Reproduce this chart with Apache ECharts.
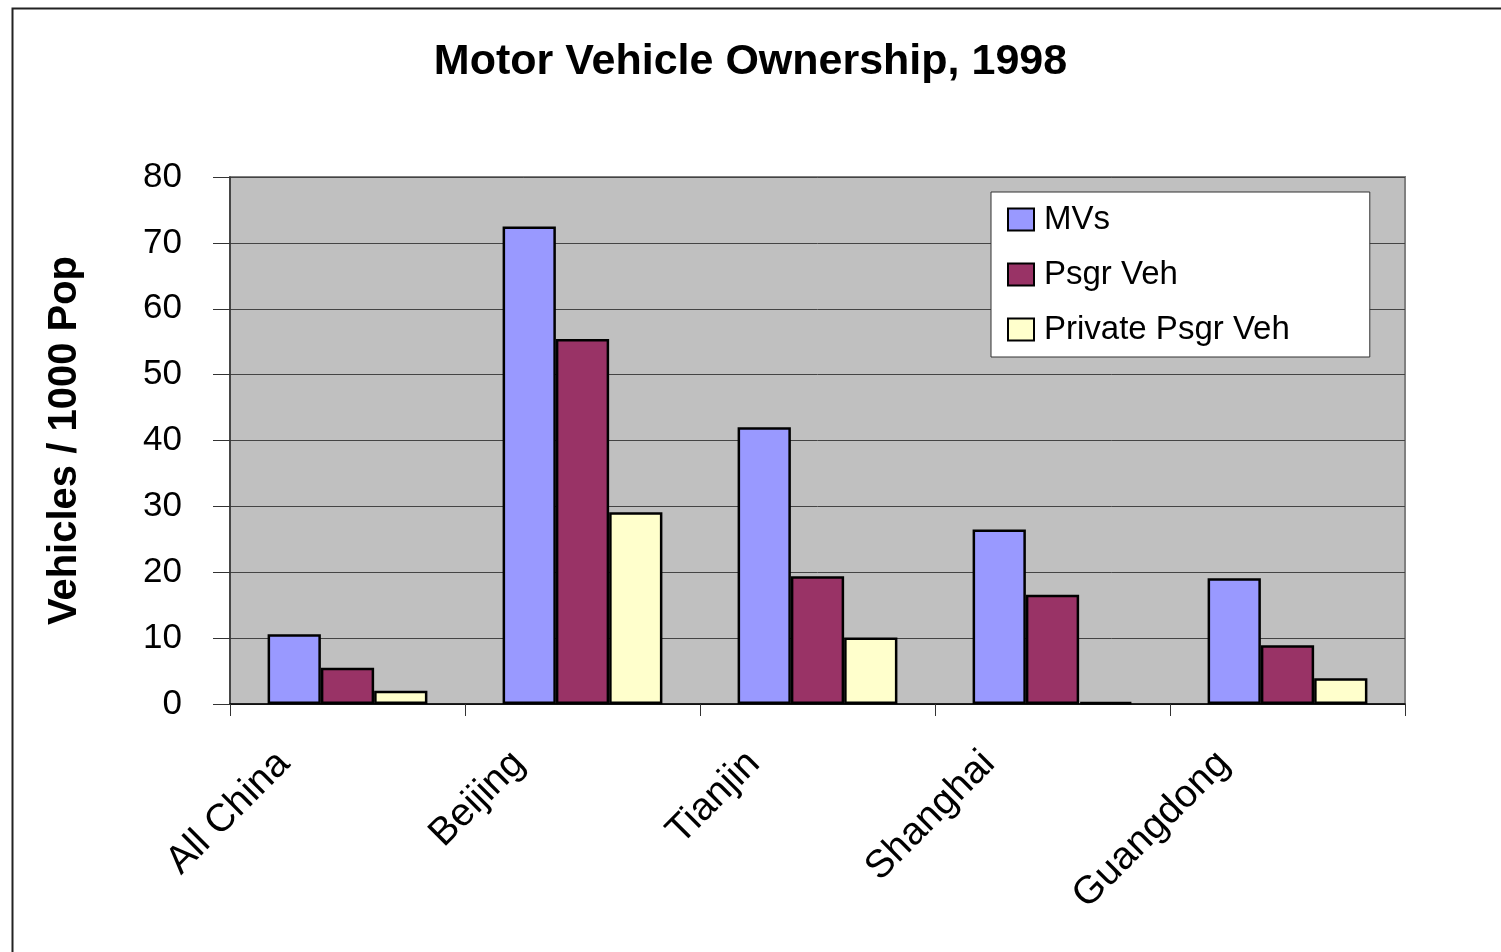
<!DOCTYPE html>
<html>
<head>
<meta charset="utf-8">
<script src="https://cdn.jsdelivr.net/npm/echarts@6/dist/echarts.min.js"></script>
<style>
html,body{margin:0;padding:0;background:#fff;}
#chart{width:1501px;height:952px;}
</style>
</head>
<body>
<div id="chart"></div>
<script>
const categories = ['All China', 'Beijing', 'Tianjin', 'Shanghai', 'Guangdong'];
const mvs = [10.6, 72.5, 42.0, 26.5, 19.1];
const psgrVeh = [5.5, 55.4, 19.4, 16.6, 8.9];
const privatePsgrVeh = [2.0, 29.1, 10.1, 0.3, 3.9];
const seriesNames = ['MVs', 'Psgr Veh', 'Private Psgr Veh'];
const yTicks = { min: 0, max: 80, interval: 10 };

const FONT = 'Liberation Sans, Arial, sans-serif';
const colors = ['#9999FF', '#993366', '#FFFFCC'];
const dataSets = [mvs, psgrVeh, privatePsgrVeh];

const chart = echarts.init(document.getElementById('chart'));
chart.setOption({
  animation: false,
  backgroundColor: '#ffffff',
  graphic: [{
    type: 'rect', left: 10, top: 6, z: -10,
    shape: { width: 1600, height: 1000 },
    style: { fill: 'none', stroke: '#222', lineWidth: 2 }
  }],
  title: {
    text: 'Motor Vehicle Ownership, 1998',
    left: 'center', top: 36,
    textStyle: { fontFamily: FONT, fontSize: 43, fontWeight: 'bold', color: '#000' }
  },
  legend: {
    orient: 'vertical',
    left: 991, top: 192,
    backgroundColor: '#ffffff',
    borderColor: '#333', borderWidth: 1,
    padding: [11, 80, 11, 16],
    itemWidth: 26, itemHeight: 22, itemGap: 22,
    icon: 'rect',
    data: seriesNames,
    textStyle: { fontFamily: FONT, fontSize: 33, color: '#000', lineHeight: 32, padding: [0, 0, 0, 5] }
  },
  grid: {
    left: 230, right: 96, top: 177, bottom: 248,
    show: true, backgroundColor: '#C0C0C0', borderColor: '#808080', borderWidth: 2
  },
  xAxis: {
    type: 'category',
    data: categories,
    axisLine: { lineStyle: { color: '#000', width: 1.5 } },
    axisTick: { show: true, length: 12, lineStyle: { color: '#333' } },
    axisLabel: {
      rotate: 45, margin: -10, padding: [0, 90, 0, 0],
      fontFamily: FONT, fontSize: 39, color: '#000'
    },
    splitLine: { show: false }
  },
  yAxis: {
    type: 'value',
    min: yTicks.min, max: yTicks.max, interval: yTicks.interval,
    name: 'Vehicles / 1000 Pop',
    nameLocation: 'middle', nameRotate: 90, nameGap: 145,
    nameTextStyle: { fontFamily: FONT, fontSize: 40, fontWeight: 'bold', color: '#000' },
    axisLine: { show: true, lineStyle: { color: '#333', width: 1.5 } },
    axisTick: { show: true, inside: false, length: 17, lineStyle: { color: '#333' } },
    axisLabel: { margin: 48, fontFamily: FONT, fontSize: 35, color: '#000' },
    splitLine: { show: true, lineStyle: { color: '#444', width: 1 } }
  },
  series: seriesNames.map((name, i) => ({
    name: name,
    type: 'bar',
    data: dataSets[i],
    barGap: '0%',
    barCategoryGap: '32%',
    itemStyle: { color: colors[i], borderColor: '#000', borderWidth: 2.5 }
  }))
});
</script>
</body>
</html>
